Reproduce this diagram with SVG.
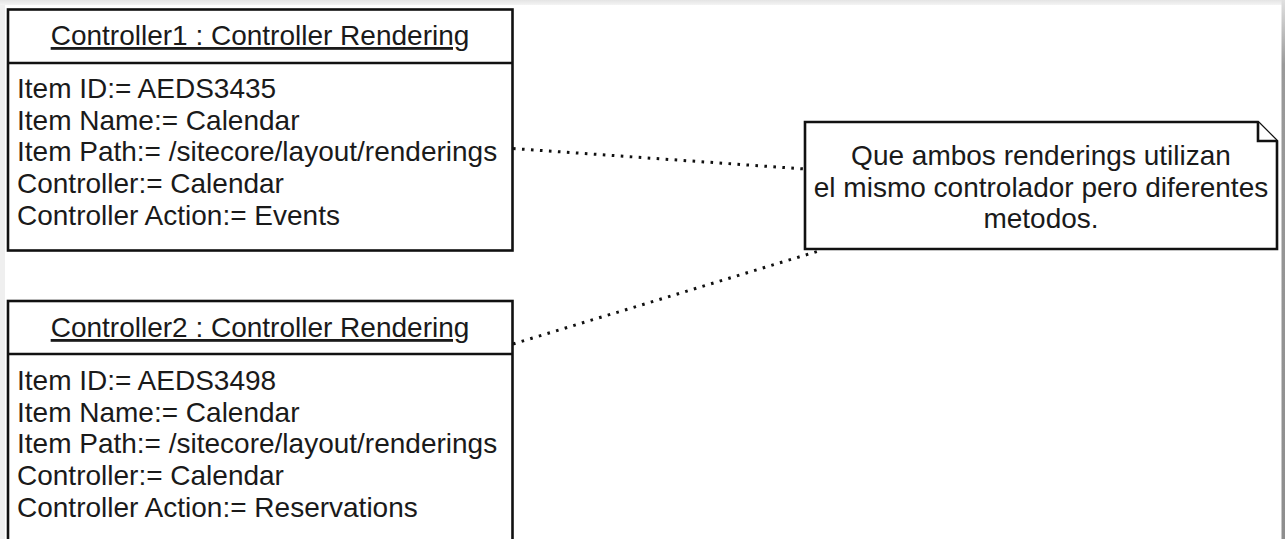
<svg xmlns="http://www.w3.org/2000/svg" width="1285" height="539" viewBox="0 0 1285 539">
  <defs>
    <linearGradient id="edgeTop" x1="0" y1="0" x2="0" y2="1">
      <stop offset="0" stop-color="#e4e4e4"/>
      <stop offset="1" stop-color="#f4f4f4"/>
    </linearGradient>
    <linearGradient id="edgeRight" x1="0" y1="0" x2="0" y2="1">
      <stop offset="0" stop-color="#e0e0e0"/>
      <stop offset="0.12" stop-color="#9a9a9a"/>
      <stop offset="1" stop-color="#8e8e8e"/>
    </linearGradient>
    <style>
      .box { fill: #ffffff; stroke: #111111; stroke-width: 2.6; }
      .sep { stroke: #111111; stroke-width: 2.6; }
      .txt { font-family: "Liberation Sans", Arial, sans-serif; font-size: 28px; fill: #1a1a1a; }
      .title { text-anchor: middle; text-decoration: underline; }
      .mid { text-anchor: middle; }
      .link { fill: none; stroke: #111111; stroke-width: 3; stroke-dasharray: 2.6 6.4; }
    </style>
  </defs>

  <!-- page background and frame -->
  <rect x="0" y="0" width="1285" height="539" fill="#ffffff"/>
  <rect x="0" y="0" width="5" height="539" fill="#efefef"/>
  <rect x="0" y="0" width="1285" height="5" fill="url(#edgeTop)"/>
  <rect x="1281.5" y="0" width="3.5" height="539" fill="url(#edgeRight)"/>

  <!-- connectors -->
  <g id="connectors">
    <line class="link" x1="513" y1="148.5" x2="805" y2="169"/>
    <line class="link" x1="513" y1="344" x2="822" y2="250"/>
  </g>

  <!-- Controller1 object -->
  <g id="controller1">
    <rect class="box" x="8" y="9.5" width="504.5" height="241"/>
    <line class="sep" x1="8" y1="63" x2="512.5" y2="63"/>
    <text class="txt title" x="260" y="45">Controller1 : Controller Rendering</text>
    <text class="txt" x="17" y="98">Item ID:= AEDS3435</text>
    <text class="txt" x="17" y="129.7">Item Name:= Calendar</text>
    <text class="txt" x="17" y="161.4">Item Path:= /sitecore/layout/renderings</text>
    <text class="txt" x="17" y="193.1">Controller:= Calendar</text>
    <text class="txt" x="17" y="224.8">Controller Action:= Events</text>
  </g>

  <!-- Controller2 object -->
  <g id="controller2">
    <rect class="box" x="8" y="301" width="504.5" height="260"/>
    <line class="sep" x1="8" y1="354" x2="512.5" y2="354"/>
    <text class="txt title" x="260" y="337">Controller2 : Controller Rendering</text>
    <text class="txt" x="17" y="390">Item ID:= AEDS3498</text>
    <text class="txt" x="17" y="421.7">Item Name:= Calendar</text>
    <text class="txt" x="17" y="453.4">Item Path:= /sitecore/layout/renderings</text>
    <text class="txt" x="17" y="485.1">Controller:= Calendar</text>
    <text class="txt" x="17" y="516.8">Controller Action:= Reservations</text>
  </g>

  <!-- note with folded corner -->
  <g id="note">
    <path class="box" d="M805 122 H1258 L1277 141 V249 H805 Z"/>
    <path class="box" d="M1258 122 V141 H1277" fill="none"/>
    <text class="txt mid" x="1041" y="165">Que ambos renderings utilizan</text>
    <text class="txt mid" x="1041" y="196.5">el mismo controlador pero diferentes</text>
    <text class="txt mid" x="1041" y="228">metodos.</text>
  </g>
</svg>
